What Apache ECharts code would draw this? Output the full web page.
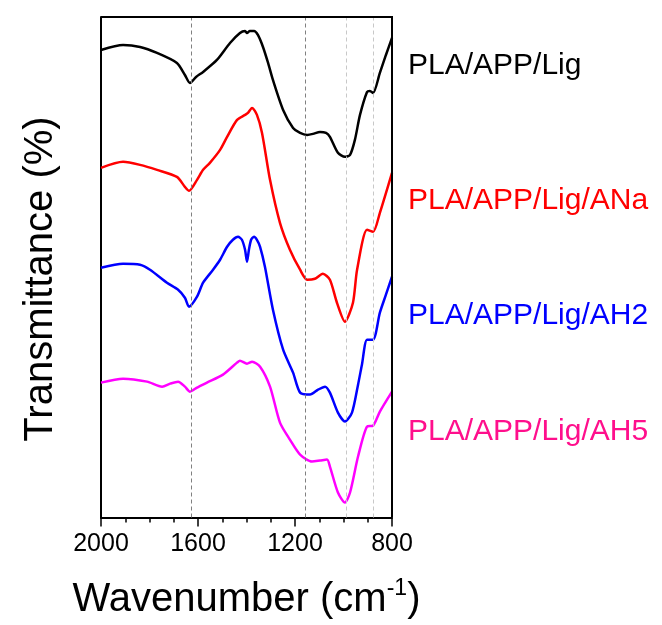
<!DOCTYPE html>
<html>
<head>
<meta charset="utf-8">
<script src="https://cdn.jsdelivr.net/npm/echarts@6/dist/echarts.min.js"></script>
<style>
html,body{margin:0;padding:0;background:#fff;}
#c{width:662px;height:625px;}
</style>
</head>
<body>
<div id="c"></div>
<script>
// Series names
var seriesNames = ['PLA/APP/Lig', 'PLA/APP/Lig/ANa', 'PLA/APP/Lig/AH2', 'PLA/APP/Lig/AH5'];
var seriesColors = ['#000000', '#FF0000', '#0000FF', '#FF00FF'];
var labelColors = ['#000000', '#FF0000', '#0000FF', '#FF0F8C'];

// Wavenumbers (cm-1) and offset transmittance values (arbitrary units)
var ligWN  = [2000,1909,1839,1769,1687,1654,1633,1608,1579,1522,1468,1427,1406,1398,1386,1369,1353,1332,1311,1291,1249,1208,1179,1150,1126,1097,1072,1056,1023,994,973,953,932,903,891,878,850,825,800];
var ligVal = [468,473,471,465,455,443,435,441,446,458,475,485,487,485,487,487,483,471,455,438,408,390,385,383,384,386,385,381,365,361,363,378,403,426,427,425,445,463,480];

var anaWN  = [2000,1909,1839,1769,1687,1654,1637,1604,1579,1551,1509,1480,1439,1406,1394,1377,1357,1336,1303,1262,1221,1179,1150,1118,1085,1056,1027,994,961,944,903,878,850,800];
var anaVal = [350,356,353,348,341,331,327,338,348,355,368,381,398,403,405,410,403,385,338,295,268,248,238,239,244,238,215,196,215,248,288,286,305,345];

var ah2WN  = [2000,1909,1839,1798,1728,1682,1654,1637,1604,1579,1538,1509,1480,1456,1435,1419,1406,1398,1390,1381,1369,1357,1344,1324,1291,1249,1208,1179,1138,1105,1076,1056,1023,994,965,940,924,903,878,850,825,800];
var ah2Val = [250,254,253,248,235,228,220,211,221,235,248,258,271,278,281,278,268,256,268,278,281,278,271,251,208,168,145,125,123,128,131,125,105,96,105,133,153,178,178,205,223,241];

var ah5WN  = [2000,1909,1810,1748,1715,1682,1654,1633,1604,1563,1497,1439,1427,1398,1377,1344,1303,1262,1221,1179,1130,1097,1068,1056,1023,994,973,940,903,878,850,800];
var ah5Val = [135,139,136,131,134,136,131,126,130,135,143,155,157,154,156,151,131,95,78,63,56,57,58,51,25,15,25,61,91,92,106,126];

// Reference (dashed) lines, cm-1
var darkRefLines = [1629, 1156];
var lightRefLines = [990, 876];

// Axis ticks
var xMin = 800, xMax = 2000, xInterval = 400;
var yMin = 0, yMax = 501;

function pairs(wn, v) { return wn.map(function (w, i) { return [w, v[i]]; }); }

var allWN = [ligWN, anaWN, ah2WN, ah5WN];
var allVal = [ligVal, anaVal, ah2Val, ah5Val];

var FONT = '"Liberation Sans", Arial, sans-serif';

var series = seriesNames.map(function (n, i) {
  return {
    name: n, type: 'line', data: pairs(allWN[i], allVal[i]),
    showSymbol: false, smooth: 0.25, silent: true,
    lineStyle: { color: seriesColors[i], width: 2.5 },
    itemStyle: { color: seriesColors[i] },
    z: 3
  };
});
series.push({
  type: 'line', data: [], silent: true, z: 1,
  markLine: {
    silent: true, symbol: 'none', label: { show: false },
    data: darkRefLines.map(function (x) { return { xAxis: x, lineStyle: { color: '#808080', type: [4, 3], width: 1 } }; })
      .concat(lightRefLines.map(function (x) { return { xAxis: x, lineStyle: { color: '#c8c8c8', type: [4, 3], width: 1 } }; }))
  }
});

var labelY = [65.5, 200.5, 315.5, 431.5];
var graphics = seriesNames.map(function (n, i) {
  return {
    type: 'text', x: 408, y: labelY[i], silent: true,
    style: { text: n, fill: labelColors[i], font: '30px ' + FONT, textVerticalAlign: 'middle', textAlign: 'left' }
  };
});
graphics.push({
  type: 'text', x: 41, y: 279, rotation: Math.PI / 2, silent: true,
  style: { text: 'Transmittance (%)', fill: '#000', font: '40px ' + FONT, textAlign: 'center', textVerticalAlign: 'middle' }
});

var chart = echarts.init(document.getElementById('c'), null, { renderer: 'canvas' });
chart.setOption({
  animation: false,
  backgroundColor: '#fff',
  grid: { left: 101, right: 270, top: 17, bottom: 107 },
  xAxis: {
    type: 'value', min: xMin, max: xMax, interval: xInterval, inverse: true,
    axisLine: { show: true, onZero: false, lineStyle: { color: '#000', width: 2 } },
    axisTick: { show: true, length: 9, lineStyle: { color: '#000', width: 1.5 } },
    minorTick: { show: true, splitNumber: 4, length: 5, lineStyle: { color: '#000', width: 1.5 } },
    splitLine: { show: false },
    axisLabel: { fontSize: 25, color: '#000', fontFamily: FONT, margin: 14, formatter: function (v) { return String(v); } },
    name: '{t|Wavenumber (cm}{s|-1}{t|)}',
    nameLocation: 'middle', nameGap: 60,
    nameTextStyle: {
      rich: {
        t: { fontSize: 40, color: '#000', fontFamily: FONT },
        s: { fontSize: 23, color: '#000', fontFamily: FONT, verticalAlign: 'top', padding: [0, 0, 22, 0] }
      }
    }
  },
  yAxis: {
    type: 'value', min: yMin, max: yMax,
    axisLine: { show: true, onZero: false, lineStyle: { color: '#000', width: 2 } },
    axisTick: { show: false }, axisLabel: { show: false }, splitLine: { show: false }
  },
  series: series,
  graphic: graphics
});

// Plot frame (top and right edges) derived from the grid's pixel extent
var tl = chart.convertToPixel({ gridIndex: 0 }, [xMax, yMax]);
var br = chart.convertToPixel({ gridIndex: 0 }, [xMin, yMin]);
graphics.push({
  type: 'polyline', silent: true, z: 100,
  shape: { points: [[tl[0], tl[1]], [br[0], tl[1]], [br[0], br[1]]] },
  style: { stroke: '#000', lineWidth: 2, fill: null }
});
chart.setOption({ graphic: graphics });
</script>
</body>
</html>
